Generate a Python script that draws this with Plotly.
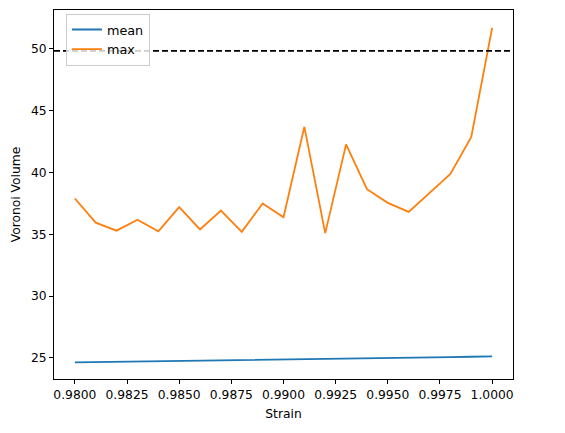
import plotly.graph_objects as go

strain = [0.980, 0.981, 0.982, 0.983, 0.984, 0.985, 0.986, 0.987, 0.988, 0.989, 0.990,
          0.991, 0.992, 0.993, 0.994, 0.995, 0.996, 0.997, 0.998, 0.999, 1.000]
mean_vol = [24.65, 24.67, 24.70, 24.72, 24.74, 24.77, 24.79, 24.81, 24.84, 24.86, 24.88,
            24.91, 24.93, 24.95, 24.98, 25.00, 25.02, 25.05, 25.07, 25.10, 25.13]
max_vol = [37.90, 35.95, 35.30, 36.18, 35.25, 37.20, 35.40, 36.93, 35.20, 37.50, 36.38,
           43.70, 35.10, 42.28, 38.65, 37.55, 36.82, 38.38, 39.88, 42.88, 51.70]
threshold = 49.85
x_ticks = [0.98, 0.9825, 0.985, 0.9875, 0.99, 0.9925, 0.995, 0.9975, 1.0]
y_ticks = [25, 30, 35, 40, 45, 50]

fig = go.Figure()
fig.add_trace(go.Scatter(x=strain, y=mean_vol, mode="lines", name="mean",
                         line=dict(color="#1f77b4", width=1.8)))
fig.add_trace(go.Scatter(x=strain, y=max_vol, mode="lines", name="max",
                         line=dict(color="#ff7f0e", width=1.8)))
fig.add_hline(y=threshold, line=dict(color="black", width=1.8, dash="6px,3px"), layer="above")

axis_common = dict(showline=True, linecolor="black", linewidth=1, mirror=True,
                   ticks="outside", ticklen=4, tickcolor="black", showgrid=False,
                   zeroline=False, tickfont=dict(size=12.3, color="black"))
# page body has an 8px margin, so the figure is sized to fit the 565x433 window
fig.update_layout(
    width=549, height=417,
    margin=dict(l=46, r=44, t=2, b=46),
    paper_bgcolor="white", plot_bgcolor="white",
    font=dict(family="DejaVu Sans", size=12.3, color="black"),
    showlegend=True,
    legend=dict(x=0.026, y=0.99, xanchor="left", yanchor="top",
                bgcolor="rgba(255,255,255,0.8)", bordercolor="#cccccc", borderwidth=1,
                font=dict(size=12.8), tracegroupgap=0, itemwidth=30),
)
fig.update_xaxes(range=[0.979, 1.001], tickvals=x_ticks, tickformat=".4f",
                 title=dict(text="Strain", font=dict(size=12.3), standoff=8), **axis_common)
fig.update_yaxes(range=[23.3, 53.15], tickvals=y_ticks,
                 title=dict(text="Voronoi Volume", font=dict(size=12.3), standoff=7), **axis_common)

fig.write_html("out.html")
